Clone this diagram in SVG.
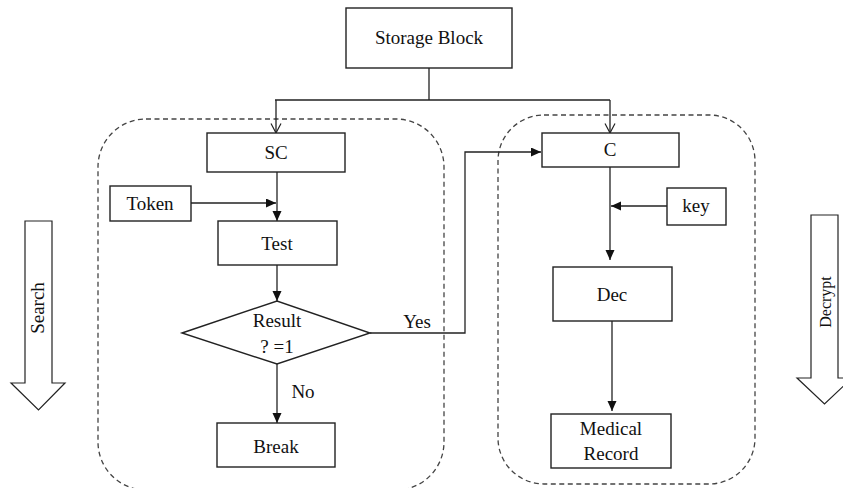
<svg xmlns="http://www.w3.org/2000/svg" width="843" height="488" viewBox="0 0 843 488">
<style>
.box{fill:#fff;stroke:#222;stroke-width:1.4}
.grp{fill:none;stroke:#444;stroke-width:1.3;stroke-dasharray:5,3.5}
.ln{fill:none;stroke:#222;stroke-width:1.3}
.t{font-family:"Liberation Serif","Times New Roman",serif;font-size:19px;fill:#111;text-anchor:middle}
.big{fill:#fff;stroke:#222;stroke-width:1.2}
</style>
<defs>
<marker id="fa" markerUnits="userSpaceOnUse" markerWidth="11" markerHeight="10" refX="10" refY="4.5" orient="auto"><path d="M0,0 L10,4.5 L0,9 z" fill="#111"/></marker>
<marker id="oa" markerUnits="userSpaceOnUse" markerWidth="12" markerHeight="12" refX="10" refY="5.5" orient="auto"><path d="M0.5,0.5 L10,5.5 L0.5,10.5" fill="none" stroke="#222" stroke-width="1.2"/></marker>
</defs>
<rect width="843" height="488" fill="#fff"/>
<g id="search-group"><rect class="grp" x="98" y="119" width="346" height="371" rx="48" ry="48"/></g>
<g id="decrypt-group"><rect class="grp" x="498" y="115" width="257" height="369" rx="46" ry="46"/></g>
<g id="connectors">
<path class="ln" d="M429,68 V100 M275,100 H610"/>
<path class="ln" d="M276,100 V133" marker-end="url(#oa)"/>
<path class="ln" d="M610,100 V133" marker-end="url(#oa)"/>
<path class="ln" d="M277,172 V221" marker-end="url(#fa)"/>
<path class="ln" d="M191,203 H276" marker-end="url(#fa)"/>
<path class="ln" d="M277,265 V301" marker-end="url(#fa)"/>
<path class="ln" d="M370,333 H465 V152 H541" marker-end="url(#fa)"/>
<path class="ln" d="M277,364 V423" marker-end="url(#fa)"/>
<path class="ln" d="M610,167 V260" marker-end="url(#fa)"/>
<path class="ln" d="M667,206 H611" marker-end="url(#fa)"/>
<path class="ln" d="M612,321 V411" marker-end="url(#fa)"/>
<text class="t" x="417" y="328">Yes</text>
<text class="t" x="303" y="398">No</text>
</g>
<g id="storage"><rect class="box" x="346" y="8" width="166" height="60"/><text class="t" x="429" y="44">Storage Block</text></g>
<g id="sc"><rect class="box" x="207" y="133" width="138" height="39"/><text class="t" x="276" y="159">SC</text></g>
<g id="token"><rect class="box" x="110" y="186" width="81" height="35"/><text class="t" x="150" y="210">Token</text></g>
<g id="test"><rect class="box" x="218" y="221" width="119" height="44"/><text class="t" x="277" y="250">Test</text></g>
<g id="result"><polygon class="box" points="182,333 277,301 370,333 277,364"/><text class="t" x="277" y="327">Result</text><text class="t" x="277" y="353">? =1</text></g>
<g id="break"><rect class="box" x="217" y="423" width="118" height="44"/><text class="t" x="276" y="453">Break</text></g>
<g id="c"><rect class="box" x="542" y="133" width="137" height="34"/><text class="t" x="610" y="156">C</text></g>
<g id="key"><rect class="box" x="667" y="188" width="59" height="37"/><text class="t" x="696" y="212">key</text></g>
<g id="dec"><rect class="box" x="553" y="267" width="119" height="54"/><text class="t" x="612" y="301">Dec</text></g>
<g id="record"><rect class="box" x="551" y="414" width="120" height="54"/><text class="t" x="611" y="435">Medical</text><text class="t" x="611" y="460">Record</text></g>
<g id="search-arrow"><polygon class="big" points="25,221 52,221 52,383 65,383 38.5,410 11,383 25,383"/><text class="t" transform="translate(44,308) rotate(-90)">Search</text></g>
<g id="decrypt-arrow"><polygon class="big" points="811,215 838,215 838,378 852,378 824.5,404 797,378 811,378"/><text class="t" style="font-size:16px" transform="translate(831,302) rotate(-90)">Decrypt</text></g>
</svg>
